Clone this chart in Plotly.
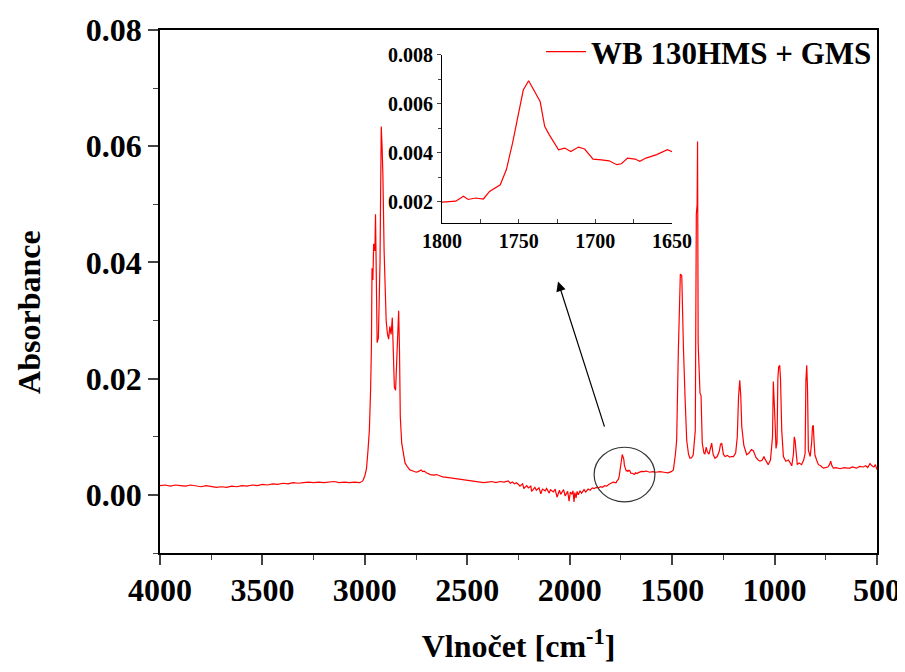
import plotly.graph_objects as go

# ---- data ----
wavenumber = [
    4000, 3975, 3950, 3925, 3900, 3875, 3850, 3825, 3800, 3775,
    3750, 3725, 3700, 3675, 3650, 3625, 3600, 3575, 3550, 3525,
    3500, 3475, 3450, 3425, 3400, 3375, 3350, 3325, 3300, 3275,
    3250, 3225, 3200, 3175, 3150, 3125, 3100, 3075, 3050, 3025,
    3010, 3000,
    2992, 2985, 2978, 2972, 2968, 2965, 2961, 2957, 2951, 2948,
    2944, 2940, 2934, 2930, 2926, 2923, 2920, 2916, 2912, 2906,
    2902, 2896, 2890, 2884, 2878, 2872, 2866, 2860, 2856, 2850,
    2846, 2840, 2835, 2831, 2827, 2820, 2812, 2804, 2792, 2780,
    2765, 2750, 2740, 2732, 2725, 2718, 2710, 2700, 2690, 2680,
    2665, 2650, 2635, 2620, 2600, 2580, 2560, 2540, 2520, 2500,
    2480, 2460, 2440, 2420, 2400, 2380, 2360, 2340, 2320, 2300,
    2290, 2280, 2270, 2260,
    2250, 2243, 2230, 2224, 2210, 2202, 2190, 2186, 2170, 2163,
    2150, 2141, 2133, 2120, 2113, 2100, 2094, 2080, 2071, 2062,
    2050, 2044, 2030, 2022, 2010, 2003, 1997, 1990, 1984, 1979,
    1975, 1969, 1964, 1958, 1950, 1942, 1930, 1922, 1910, 1900,
    1890, 1880, 1870, 1860, 1850, 1840, 1830, 1820, 1810,
    1800, 1791, 1786, 1783, 1778, 1773, 1769, 1762, 1758, 1754,
    1750, 1747, 1743.5, 1740, 1736, 1733, 1730, 1724, 1720, 1716,
    1711, 1707, 1701.5, 1696, 1691, 1686, 1683, 1679, 1674, 1671,
    1667, 1660, 1653, 1650,
    1640, 1625, 1610, 1595, 1580, 1560, 1540, 1520, 1505, 1494,
    1484, 1478, 1470, 1464, 1460, 1453, 1449, 1445, 1437, 1429,
    1420, 1413, 1405, 1397, 1387, 1382, 1378, 1376, 1373, 1368,
    1364, 1359, 1355, 1353, 1345, 1340, 1334, 1328, 1320, 1314,
    1307, 1300, 1291, 1280, 1270, 1264, 1258, 1250, 1242, 1230,
    1220, 1210, 1201, 1190, 1182, 1176, 1170, 1165, 1160, 1150,
    1136, 1125, 1113, 1104, 1090, 1080, 1071, 1060, 1052, 1047,
    1031, 1020, 1010, 1006, 1002, 997, 993, 988, 984, 980,
    975, 971, 965, 957, 945, 933, 925, 916, 908, 904,
    900, 894, 889, 880, 868, 858, 851, 847, 843, 839,
    835, 826, 819, 815, 811, 807, 803, 795, 786, 775,
    762, 740, 732, 726, 720, 713, 700, 680, 660, 645,
    632, 620, 600, 585, 567, 555, 545, 534, 525, 515,
    508, 501, 500,
]

absorbance = [
    0.0016, 0.0017, 0.0015, 0.0017, 0.0016, 0.0015, 0.0017, 0.0015, 0.0014, 0.0016,
    0.0014, 0.0013, 0.0014, 0.0013, 0.0015, 0.0014, 0.0016, 0.0015, 0.0017, 0.0016,
    0.0018, 0.0017, 0.0019, 0.0018, 0.0020, 0.0019, 0.0021, 0.0020, 0.0021, 0.0022,
    0.0021, 0.0022, 0.0021, 0.0022, 0.0023, 0.0021, 0.0022, 0.0021, 0.0022, 0.0021,
    0.0024, 0.0033,
    0.0045, 0.0075, 0.0111, 0.0180, 0.0254, 0.0390, 0.0370, 0.0432, 0.0420, 0.0483,
    0.0300, 0.0262, 0.0270, 0.0322, 0.0400, 0.0517, 0.0634, 0.0600, 0.0552, 0.0420,
    0.0346, 0.0300, 0.0278, 0.0268, 0.0290, 0.0276, 0.0305, 0.0250, 0.0185, 0.0180,
    0.0220, 0.0290, 0.0317, 0.0250, 0.0134, 0.0089, 0.0070, 0.0055, 0.0048, 0.0043,
    0.0041, 0.0039, 0.0040, 0.0042, 0.0043, 0.0040, 0.0041, 0.0038, 0.0036, 0.0035,
    0.0034, 0.0035, 0.0033, 0.0031, 0.0030, 0.0029, 0.0027, 0.0026, 0.0026, 0.0025,
    0.0024, 0.0023, 0.0022, 0.0021, 0.0022, 0.0023, 0.0021, 0.0023, 0.0022, 0.0024,
    0.0020, 0.0022, 0.0019, 0.0021,
    0.0018, 0.0015, 0.0019, 0.0011, 0.0016, 0.0012, 0.0015, 0.0006, 0.0013, 0.0008,
    0.0012, 0.0002, 0.0010, 0.0007, 0.0011, 0.0003, 0.0009, 0.0005, 0.0010, -0.0004,
    0.0008, 0.0001, 0.0009, -0.0002, 0.0006, -0.0011, 0.0005, 0.0001, 0.0007, -0.0012,
    0.0004, -0.0005, 0.0006, 0.0000, 0.0007, 0.0003, 0.0009, 0.0005, 0.0010, 0.0008,
    0.0012, 0.0011, 0.0013, 0.0012, 0.0014, 0.0013, 0.0016, 0.0015, 0.0018,
    0.00199, 0.00203, 0.00223, 0.00210, 0.00216, 0.00212, 0.00243, 0.00270, 0.00332, 0.00440,
    0.00562, 0.00657, 0.00695, 0.00657, 0.00610, 0.00508, 0.00474, 0.00413, 0.00420, 0.00406,
    0.00424, 0.00416, 0.00375, 0.00372, 0.00368, 0.00352, 0.00356, 0.00379, 0.00375, 0.00366,
    0.00379, 0.00393, 0.00413, 0.00405,
    0.0040, 0.0041, 0.0039, 0.0040, 0.0039, 0.0040, 0.0039, 0.0038, 0.0040, 0.0043,
    0.0070, 0.0094, 0.0243, 0.0357, 0.0380, 0.0377, 0.0300, 0.0254, 0.0168, 0.0094,
    0.0070, 0.0063, 0.0064, 0.0069, 0.0111, 0.0483, 0.0500, 0.0608, 0.0260, 0.0200,
    0.0175, 0.0171, 0.0120, 0.0089, 0.0072, 0.0070, 0.0082, 0.0074, 0.0070, 0.0080,
    0.0089, 0.0070, 0.0063, 0.0066, 0.0075, 0.0087, 0.0089, 0.0070, 0.0066, 0.0068,
    0.0065, 0.0066, 0.0066, 0.0072, 0.0100, 0.0168, 0.0197, 0.0170, 0.0117, 0.0085,
    0.0069, 0.0072, 0.0078, 0.0076, 0.0064, 0.0060, 0.0058, 0.0060, 0.0066, 0.0062,
    0.0052, 0.0060, 0.0100, 0.0195, 0.0170, 0.0120, 0.0080, 0.0090, 0.0200, 0.0220,
    0.0223, 0.0200, 0.0111, 0.0066, 0.0058, 0.0060, 0.0056, 0.0050, 0.0070, 0.0100,
    0.0094, 0.0060, 0.0052, 0.0055, 0.0052, 0.0060, 0.0071, 0.0197, 0.0223, 0.0180,
    0.0077, 0.0066, 0.0090, 0.0117, 0.0120, 0.0090, 0.0069, 0.0060, 0.0052, 0.0050,
    0.0046, 0.0048, 0.0052, 0.0058, 0.0050, 0.0046, 0.0047, 0.0045, 0.0047, 0.0046,
    0.0046, 0.0048, 0.0046, 0.0049, 0.0048, 0.0050, 0.0047, 0.0054, 0.0050, 0.0048,
    0.0052, 0.0044, 0.0045,
]

series_name = "WB 130HMS + GMS"
x_title = "Vlnočet [cm<sup>-1</sup>]"
y_title = "Absorbance"
main_x_ticks = [4000, 3500, 3000, 2500, 2000, 1500, 1000, 500]
main_y_ticks = [0.00, 0.02, 0.04, 0.06, 0.08]
inset_x_ticks = [1800, 1750, 1700, 1650]
inset_y_ticks = [0.002, 0.004, 0.006, 0.008]

# circled region and arrow (data coordinates)
circle_x = [1881, 1584]
circle_y = [-0.0012, 0.0082]
arrow_tail = (1828, 0.0115)
arrow_head = (2057, 0.0367)

FONT = "Liberation Serif, Times New Roman, serif"
RED = "#ff0000"

fig = go.Figure()
fig.add_trace(go.Scatter(
    x=wavenumber, y=absorbance, mode="lines", name=series_name,
    line=dict(color=RED, width=1.2), xaxis="x", yaxis="y", showlegend=True,
))
fig.add_trace(go.Scatter(
    x=wavenumber, y=absorbance, mode="lines", name=series_name,
    line=dict(color=RED, width=1.2), xaxis="x2", yaxis="y2", showlegend=False,
))

fig.add_shape(type="circle", xref="x", yref="y",
              x0=circle_x[0], x1=circle_x[1], y0=circle_y[0], y1=circle_y[1],
              line=dict(color="#333333", width=1.2))

fig.add_annotation(x=arrow_head[0], y=arrow_head[1], ax=arrow_tail[0], ay=arrow_tail[1],
                   xref="x", yref="y", axref="x", ayref="y", text="",
                   showarrow=True, arrowhead=2, arrowsize=1.6, arrowwidth=1.2,
                   arrowcolor="black")

# y-axis title (placed as a rotated annotation so it can sit near the page edge)
fig.add_annotation(text=y_title, textangle=-90, showarrow=False,
                   xref="paper", yref="paper", x=-0.1827, y=0.461,
                   xanchor="center", yanchor="middle",
                   font=dict(family=FONT, size=32, weight="bold", color="black"))

axis_common = dict(showgrid=False, zeroline=False, showline=True, linecolor="black",
                   automargin=False)

# The page adds an 8px body margin, so the figure is offset by 8px and margins shifted.
fig.update_layout(
    width=895, height=656,
    margin=dict(l=152, r=26, t=22, b=111),
    paper_bgcolor="white", plot_bgcolor="white",
    font=dict(family=FONT, color="black", size=32, weight="bold"),
    xaxis=dict(
        **axis_common, domain=[0, 1], range=[4000, 500], linewidth=1.5, mirror=True,
        tickvals=main_x_ticks, ticks="outside", ticklen=10, tickwidth=1.5,
        ticklabelstandoff=-2, ticklabeloverflow="allow",
        tickfont=dict(family=FONT, size=32, weight="bold"),
        minor=dict(dtick=250, tick0=500, ticks="outside", ticklen=5, tickwidth=1.2),
        title=dict(text=x_title, standoff=40,
                   font=dict(family=FONT, size=32, weight="bold")),
    ),
    yaxis=dict(
        **axis_common, domain=[0, 1], range=[-0.01, 0.08], linewidth=1.5, mirror=True,
        tickvals=main_y_ticks, tickformat=".2f", ticks="outside", ticklen=10, tickwidth=1.5,
        tickfont=dict(family=FONT, size=32, weight="bold"),
        minor=dict(dtick=0.01, tick0=0, ticks="outside", ticklen=5, tickwidth=1.2),
    ),
    xaxis2=dict(
        **axis_common, domain=[0.3933, 0.7141], anchor="y2", range=[1800, 1650],
        linewidth=1.2, tickvals=inset_x_ticks, ticks="inside", ticklen=4, tickwidth=1,
        tickfont=dict(family=FONT, size=20, weight="bold"),
        minor=dict(dtick=25, tick0=1650, ticks="inside", ticklen=4, tickwidth=1),
    ),
    yaxis2=dict(
        **axis_common, domain=[0.631, 0.9522], anchor="x2", range=[0.00114, 0.008],
        linewidth=1.2, tickvals=inset_y_ticks, tickformat=".3f", ticks="outside",
        ticklen=4, tickwidth=1,
        tickfont=dict(family=FONT, size=20, weight="bold"),
        minor=dict(dtick=0.001, tick0=0, ticks="outside", ticklen=3, tickwidth=1),
    ),
    legend=dict(x=1.0, xanchor="right", y=0.958, yanchor="middle",
                bgcolor="rgba(0,0,0,0)", borderwidth=0,
                font=dict(family=FONT, size=31, weight="bold"),
                itemwidth=40, tracegroupgap=0),
    showlegend=True,
)

fig.write_html("out.html")
